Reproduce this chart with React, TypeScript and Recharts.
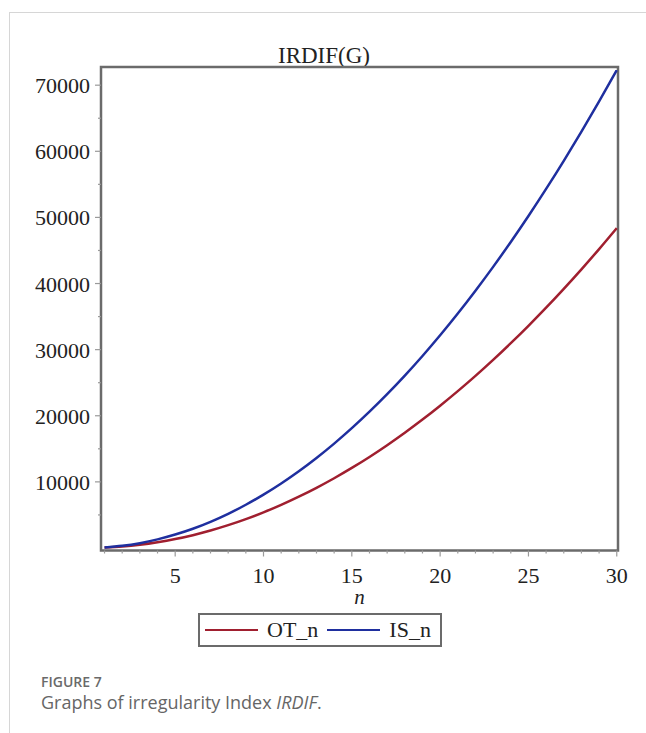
import React from "react";
import { LineChart, Line, XAxis, YAxis, Legend, ReferenceArea } from "recharts";

// n values and the two index curves
const nValues = [
  1, 2, 3, 4, 5, 6, 7, 8, 9, 10, 11, 12, 13, 14, 15, 16, 17, 18, 19, 20, 21, 22,
  23, 24, 25, 26, 27, 28, 29, 30,
];
const otValues = [
  60, 220, 490, 870, 1350, 1940, 2640, 3450, 4370, 5390, 6520, 7760, 9100, 10550,
  12110, 13770, 15550, 17430, 19420, 21520, 23720, 26030, 28450, 30980, 33610,
  36350, 39200, 42150, 45210, 48380,
];
const isValues = [
  90, 330, 730, 1300, 2030, 2910, 3960, 5170, 6540, 8070, 9760, 11610, 13620,
  15790, 18120, 20610, 23260, 26070, 29040, 32170, 35460, 38910, 42520, 46290,
  50220, 54310, 58560, 62970, 67540, 72270,
];
const seriesOrder = ["OT_n", "IS_n"];

const xTicks = nValues;
const yTicks = [
  5000, 10000, 15000, 20000, 25000, 30000, 35000, 40000, 45000, 50000, 55000,
  60000, 65000, 70000,
];

const data = nValues.map((n, i) => ({ n, OT_n: otValues[i], IS_n: isValues[i] }));

const SERIF = '"Liberation Serif", "Times New Roman", serif';
const FRAME = "#6b6b6b";
const TICK = "#9a9a9a";
const RED = "#a01f2f";
const BLUE = "#1f2f9f";

const XTick = (props: any) => {
  const { x, y, payload } = props;
  const major = payload.value % 5 === 0;
  return (
    <g>
      <line x1={x} y1={y} x2={x} y2={y + (major ? 6 : 3)} stroke={TICK} strokeWidth={1.2} />
      {major && (
        <text x={x} y={y + 32} textAnchor="middle" fontSize={22} fontFamily={SERIF} fill="#222">
          {payload.value}
        </text>
      )}
    </g>
  );
};

const YTick = (props: any) => {
  const { x, y, payload } = props;
  const major = payload.value % 10000 === 0;
  return (
    <g>
      <line x1={x} y1={y} x2={x - (major ? 6 : 3)} y2={y} stroke={TICK} strokeWidth={1.2} />
      {major && (
        <text x={x - 11} y={y + 8} textAnchor="end" fontSize={22} fontFamily={SERIF} fill="#222">
          {payload.value}
        </text>
      )}
    </g>
  );
};

const LegendBox = (props: any) => {
  const items = [...(props.payload || [])].sort(
    (a: any, b: any) => seriesOrder.indexOf(a.value) - seriesOrder.indexOf(b.value)
  );
  return (
    <div
      style={{
        width: 240,
        height: 30,
        border: `2px solid ${FRAME}`,
        display: "flex",
        alignItems: "center",
        fontFamily: SERIF,
        fontSize: 22,
        color: "#222",
        boxSizing: "content-box",
      }}
    >
      {items.map((item: any, i: number) => (
        <div key={item.value} style={{ display: "flex", alignItems: "center" }}>
          <span
            style={{
              display: "inline-block",
              width: 53,
              height: 0,
              borderTop: `2.5px solid ${item.color}`,
              marginLeft: i === 0 ? 5 : 9,
              marginRight: 9,
            }}
          />
          <span style={{ lineHeight: "22px" }}>{item.value}</span>
        </div>
      ))}
    </div>
  );
};

export default function App() {
  return (
    <div style={{ position: "absolute", left: 0, top: 0, width: 646, height: 733, background: "#fff" }}>
      {/* page rules */}
      <div style={{ position: "absolute", left: 9, top: 12, width: 637, height: 0, borderTop: "1.5px solid #d6d6d6" }} />
      <div style={{ position: "absolute", left: 9, top: 12, width: 0, height: 721, borderLeft: "1.5px solid #d6d6d6" }} />

      <div
        style={{
          position: "absolute",
          left: 0,
          top: 44,
          width: 648,
          textAlign: "center",
          fontFamily: SERIF,
          fontSize: 23,
          lineHeight: "23px",
          color: "#222",
        }}
      >
        IRDIF(G)
      </div>

      <div style={{ position: "absolute", left: 0, top: 0 }}>
        <LineChart
          width={646}
          height={733}
          data={data}
          margin={{ top: 67, right: 28, bottom: 142.5, left: 41 }}
        >
          <XAxis
            dataKey="n"
            type="number"
            domain={[0.8, 30.07]}
            allowDataOverflow
            ticks={xTicks}
            interval={0}
            height={40}
            axisLine={false}
            tickLine={false}
            tickSize={0}
            tickMargin={0}
            tick={<XTick />}
            label={{
              value: "n",
              position: "bottom",
              offset: -1,
              fontSize: 21,
              fontStyle: "italic",
              fontFamily: SERIF,
              fill: "#222",
            }}
          />
          <YAxis
            type="number"
            domain={[-380, 72750]}
            allowDataOverflow
            ticks={yTicks}
            interval={0}
            width={60}
            axisLine={false}
            tickLine={false}
            tickSize={0}
            tickMargin={0}
            tick={<YTick />}
          />
          <ReferenceArea
            x1={0.8}
            x2={30.07}
            y1={-380}
            y2={72750}
            fill="none"
            fillOpacity={0}
            stroke={FRAME}
            strokeWidth={2.5}
          />
          <Line
            dataKey="OT_n"
            name="OT_n"
            type="monotone"
            stroke={RED}
            strokeWidth={2.5}
            dot={false}
            isAnimationActive={false}
          />
          <Line
            dataKey="IS_n"
            name="IS_n"
            type="monotone"
            stroke={BLUE}
            strokeWidth={2.5}
            dot={false}
            isAnimationActive={false}
          />
          <Legend
            layout="horizontal"
            verticalAlign="middle"
            align="center"
            content={<LegendBox />}
            wrapperStyle={{ position: "absolute", left: 198, top: 613, width: "auto" }}
          />
        </LineChart>
      </div>

      <div
        style={{
          position: "absolute",
          left: 41,
          top: 675,
          fontFamily: '"Open Sans", sans-serif',
          fontWeight: 600,
          fontSize: 14,
          color: "#6a6a6a",
          lineHeight: "14px",
        }}
      >
        FIGURE 7
      </div>
      <div
        style={{
          position: "absolute",
          left: 41,
          top: 692,
          fontFamily: '"Open Sans", sans-serif',
          fontSize: 18,
          color: "#666",
          lineHeight: "20px",
        }}
      >
        Graphs of irregularity Index <i>IRDIF</i>.
      </div>
    </div>
  );
}
